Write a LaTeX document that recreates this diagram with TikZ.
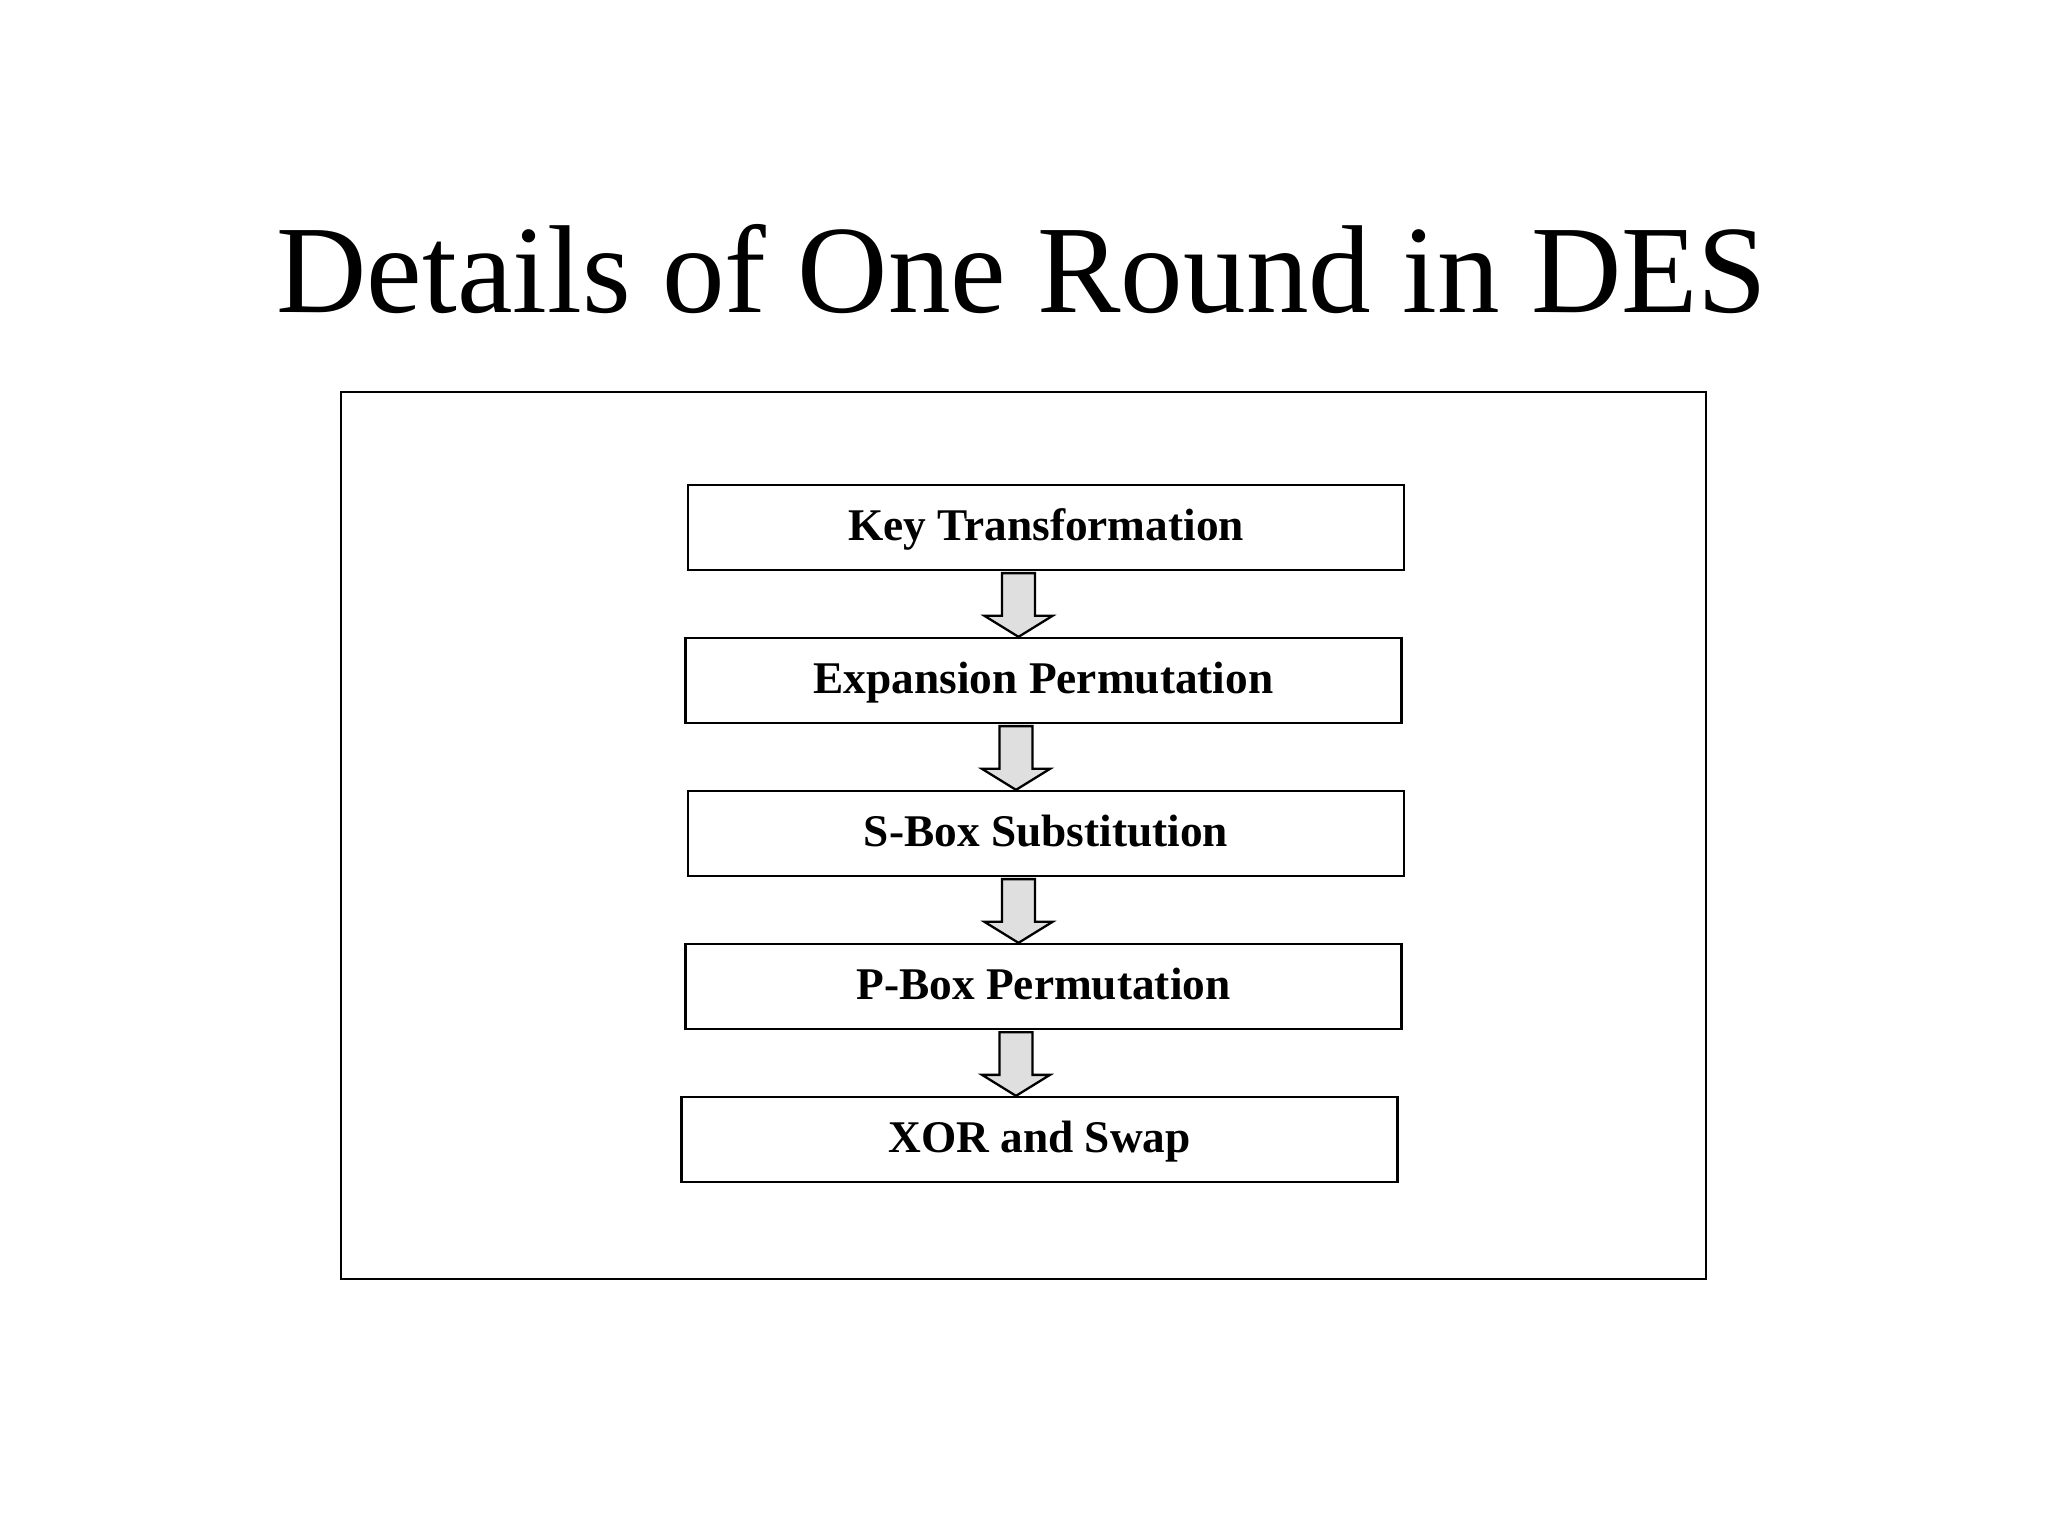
\documentclass[tikz,border=0pt]{standalone}
\usepackage{fontspec}
\setmainfont{Liberation Serif}
\usetikzlibrary{positioning,calc}

\begin{document}
\begin{tikzpicture}[node distance=1.53cm, on grid,
	stepbox/.style={draw, line width=0.65pt, minimum width=7.16cm, minimum height=0.85cm,
		font=\fontsize{12.9}{15}\selectfont\bfseries, text height=8.6pt, text depth=1.2pt},
	fatarrow/.style={draw, line width=0.65pt, fill=gray!25, line join=miter}]
	\useasboundingbox (0,0) rectangle (20.48,-15.36);

	\node[anchor=base, font=\fontsize{35.6}{43}\selectfont] (title) at (10.22,-3.13) {Details of One Round in DES};
	\node[draw, line width=0.6pt, minimum width=13.65cm, minimum height=8.87cm] (frame) at (10.235,-8.355) {};

	\node[stepbox] (key) at (10.46,-5.275) {Key Transformation};
	\node[stepbox] (exp) [below=of key, xshift=-0.025cm] {Expansion Permutation};
	\node[stepbox] (sbox) [below=of exp, xshift=0.025cm] {S-Box Substitution};
	\node[stepbox] (pbox) [below=of sbox, xshift=-0.025cm] {P-Box Permutation};
	\node[stepbox] (xor) [below=of pbox, xshift=-0.04cm] {XOR and Swap};

	% block arrows between the steps
	\foreach \a/\b in {key/exp, exp/sbox, sbox/pbox, pbox/xor}
		\draw[fatarrow] let \p1=([xshift=-2.75mm, yshift=-0.2mm]\a.south), \p2=(\b.north) in
			(\x1-1.65mm,\y1) -- (\x1+1.65mm,\y1) -- (\x1+1.65mm,\y2+2.1mm) -- (\x1+3.4mm,\y2+2.1mm)
			-- (\x1,\y2) -- (\x1-3.4mm,\y2+2.1mm) -- (\x1-1.65mm,\y2+2.1mm) -- cycle;
\end{tikzpicture}
\end{document}
